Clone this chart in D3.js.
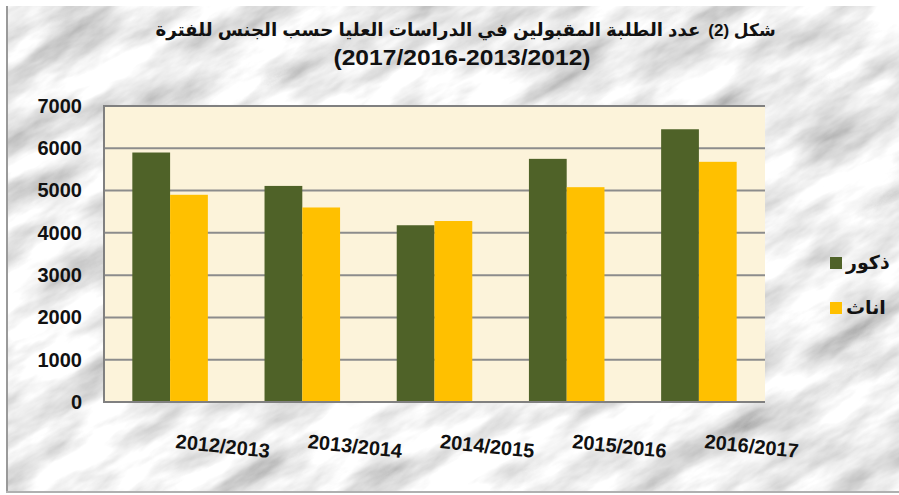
<!DOCTYPE html>
<html>
<head>
<meta charset="utf-8">
<script src="https://cdn.jsdelivr.net/npm/d3@7"></script>
<style>
  body { margin: 0; background: #fff; }
  text { font-family: "Liberation Sans", "DejaVu Sans", sans-serif; }
</style>
</head>
<body>
<svg id="chart" width="899" height="495"></svg>
<script>
// data
const years = ['2012/2013', '2013/2014', '2014/2015', '2015/2016', '2016/2017']
const seriesNames = ['ذكور', 'اناث']
const males = [5900, 5110, 4180, 5750, 6450]
const females = [4900, 4600, 4280, 5080, 5680]
const yTicks = [0, 1000, 2000, 3000, 4000, 5000, 6000, 7000]
const title1 = 'شكل (2)'
const title2 = 'عدد الطلبة المقبولين في الدراسات العليا حسب الجنس للفترة'
const title3 = '(2017/2016-2013/2012)'

const colors = ['#4F6228', '#FFC000']

const svg = d3.select('#chart')
const width = 899, height = 495
const plot = {left: 104, top: 106, right: 765, bottom: 402}

// marble-ish background
const defs = svg.append('defs')
const f = defs.append('filter').attr('id', 'marble')
  .attr('x', 0).attr('y', 0).attr('width', 1).attr('height', 1)
f.append('feTurbulence')
  .attr('type', 'fractalNoise')
  .attr('baseFrequency', '0.01 0.03')
  .attr('numOctaves', 5)
  .attr('seed', 7)
f.append('feColorMatrix')
  .attr('type', 'matrix')
  .attr('values', '1.15 0 0 0 0.28  1.15 0 0 0 0.28  1.15 0 0 0 0.28  0 0 0 0 1')

const bg = svg.append('g')
bg.append('rect')
  .attr('x', 6).attr('y', 6)
  .attr('width', width - 6).attr('height', 487)
  .attr('fill', '#d8d8d8')
bg.append('g')
  .attr('transform', 'rotate(-30 450 250)')
  .append('rect')
  .attr('x', -300).attr('y', -300)
  .attr('width', 1500).attr('height', 1100)
  .attr('filter', 'url(#marble)')
svg.append('rect').attr('x', 0).attr('y', 0).attr('width', width).attr('height', 6).attr('fill', '#fff')
svg.append('rect').attr('x', 0).attr('y', 0).attr('width', 6).attr('height', height).attr('fill', '#fff')
svg.append('rect').attr('x', 0).attr('y', 493).attr('width', width).attr('height', 2).attr('fill', '#fff')
svg.append('rect').attr('x', 6).attr('y', 6).attr('width', 2).attr('height', 487).attr('fill', '#9a9a9a')
svg.append('rect').attr('x', 6).attr('y', 491).attr('width', width - 6).attr('height', 2).attr('fill', '#b0b0b0')

// scales
const x = d3.scaleBand().domain(years).range([plot.left, plot.right])
const xs = d3.scaleBand().domain(seriesNames).range([0, x.bandwidth()])
  .paddingInner(0).paddingOuter(0.75)
const y = d3.scaleLinear().domain([0, 7000]).range([plot.bottom, plot.top])

// plot area
svg.append('rect')
  .attr('x', plot.left).attr('y', plot.top)
  .attr('width', plot.right - plot.left).attr('height', plot.bottom - plot.top)
  .attr('fill', '#fcf3da')

svg.append('g').selectAll('line')
  .data(yTicks.filter(d => d > 0 && d < 7000))
  .enter()
  .append('line')
  .attr('x1', plot.left).attr('x2', plot.right)
  .attr('y1', d => y(d)).attr('y2', d => y(d))
  .attr('stroke', '#8c8c8c')
  .attr('stroke-width', 2)

// bars
const rows = years.map((yr, i) => ({year: yr, values: [males[i], females[i]]}))
const groups = svg.append('g').selectAll('g')
  .data(rows)
  .enter()
  .append('g')
  .attr('transform', d => `translate(${x(d.year)},0)`)

groups.selectAll('rect')
  .data(d => d.values.map((v, j) => ({name: seriesNames[j], value: v, j: j})))
  .enter()
  .append('rect')
  .attr('x', d => xs(d.name))
  .attr('width', xs.bandwidth())
  .attr('y', d => y(d.value))
  .attr('height', d => y(0) - y(d.value))
  .attr('fill', d => colors[d.j])

// plot border
svg.append('path')
  .attr('d', `M${plot.right},${plot.top}H${plot.left}V${plot.bottom}H${plot.right}`)
  .attr('fill', 'none')
  .attr('stroke', '#808080')
  .attr('stroke-width', 2)

// y axis
const yAxis = d3.axisLeft(y).tickValues(yTicks).tickSize(0).tickPadding(22)
  .tickFormat(d3.format('d'))
const yG = svg.append('g')
  .attr('transform', `translate(${plot.left},0)`)
  .call(yAxis)
yG.select('.domain').remove()
yG.selectAll('text')
  .attr('font-family', '"Liberation Sans", sans-serif')
  .attr('font-weight', 'bold')
  .attr('font-size', 20)
  .attr('fill', '#111')

// x labels, slightly tilted
svg.append('g').selectAll('text')
  .data(years)
  .enter()
  .append('text')
  .attr('transform', d => `translate(${x(d) + x.bandwidth() / 2 + 52},453) rotate(6)`)
  .attr('text-anchor', 'middle')
  .attr('font-weight', 'bold')
  .attr('font-size', 20)
  .attr('fill', '#111')
  .text(d => d)

// title
svg.append('text')
  .attr('x', 742).attr('y', 36)
  .attr('text-anchor', 'middle')
  .attr('direction', 'rtl')
  .attr('font-weight', 'bold')
  .attr('font-size', 17)
  .attr('fill', '#111')
  .text(title1)
svg.append('text')
  .attr('x', 428).attr('y', 36)
  .attr('text-anchor', 'middle')
  .attr('direction', 'rtl')
  .attr('font-weight', 'bold')
  .attr('font-size', 18)
  .attr('textLength', 545)
  .attr('lengthAdjust', 'spacingAndGlyphs')
  .attr('fill', '#111')
  .text(title2)
svg.append('text')
  .attr('x', 462).attr('y', 65)
  .attr('text-anchor', 'middle')
  .attr('font-weight', 'bold')
  .attr('font-size', 22)
  .attr('textLength', 257)
  .attr('lengthAdjust', 'spacingAndGlyphs')
  .attr('fill', '#111')
  .text(title3)

// legend
const legend = svg.append('g').selectAll('g')
  .data(seriesNames)
  .enter()
  .append('g')
  .attr('transform', (d, i) => `translate(830,${257 + i * 45})`)
legend.append('rect')
  .attr('width', 12).attr('height', 12)
  .attr('fill', (d, i) => colors[i])
legend.append('text')
  .attr('x', 16).attr('y', 12)
  .attr('direction', 'rtl')
  .attr('text-anchor', 'end')
  .attr('font-weight', 'bold')
  .attr('font-size', 19)
  .attr('fill', '#111')
  .text(d => d)
</script>
</body>
</html>
